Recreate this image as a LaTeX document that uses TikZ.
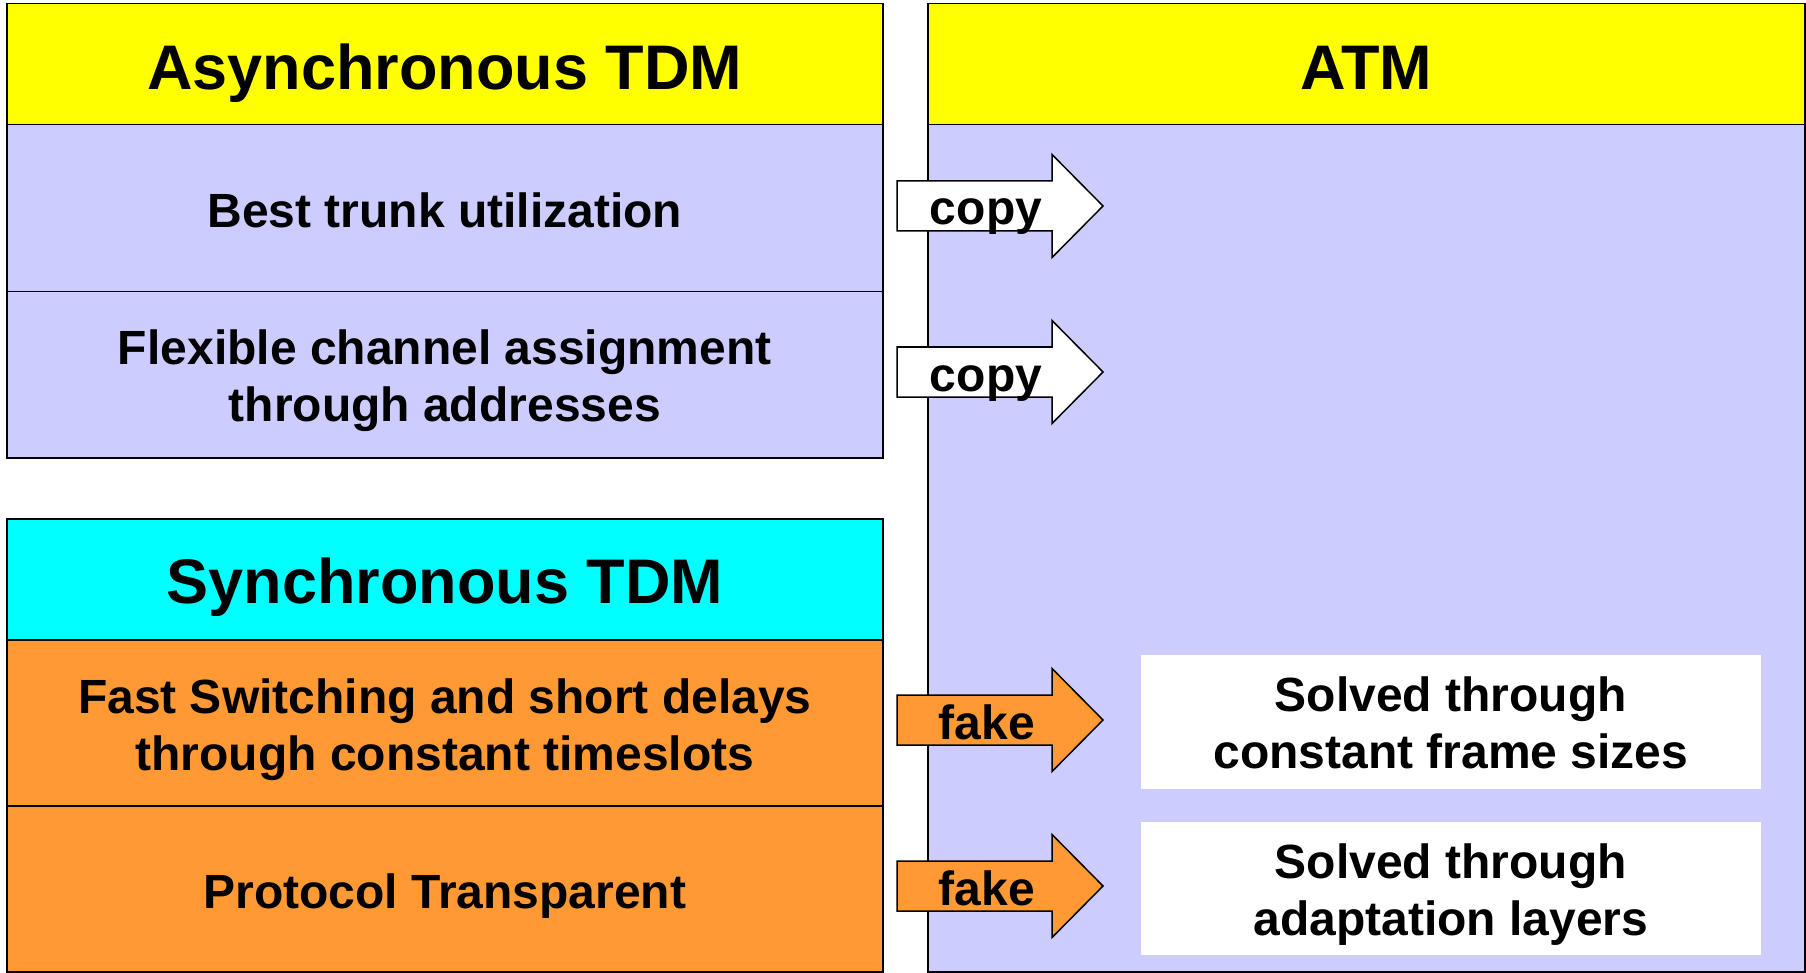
\documentclass[tikz,border=0pt]{standalone}
\usepackage{fontspec}
\setmainfont{Liberation Sans}
\definecolor{lavender}{HTML}{CCCCFF}
\definecolor{hdyellow}{HTML}{FFFF00}
\definecolor{hdcyan}{HTML}{00FFFF}
\definecolor{tdmorange}{HTML}{FF9933}
\begin{document}
\begin{tikzpicture}[x=1pt,y=-1pt,
  cell/.style={draw=black, line width=1.5pt, inner sep=0pt, anchor=north west},
  note/.style={cell, draw=none, fill=white},
  % text nodes sit on the baseline of their last line
  bodytext/.style={inner sep=0pt, anchor=base, align=center,
    font=\fontsize{48}{57}\selectfont\bfseries},
  headtext/.style={bodytext, font=\fontsize{63}{75}\selectfont\bfseries},
  blockarr/.pic={\path[pic actions] (0,-25) -- (155,-25) -- (155,-51.5) -- (206,0)
      -- (155,51.5) -- (155,25) -- (0,25) -- cycle;},
  arrowbody/.style={draw=black, line width=1.5pt, line join=miter}]
\useasboundingbox (0,0) rectangle (1806,973);

% ATM column
\node[cell, fill=lavender, minimum width=877pt, minimum height=847pt] (atmbody) at (927,124) {};
\node[cell, fill=hdyellow, minimum width=877pt, minimum height=121pt] (atm) at (927,3) {};
\node[headtext] (tatm) at (atm.center |- 0,90) {ATM};
\node[note, minimum width=620pt, minimum height=134pt] (sol1) at (1140,654) {};
\node[bodytext] (tsol1) at (sol1.center |- 0,768) {Solved through\\constant frame sizes};
\node[note, minimum width=620pt, minimum height=133pt] (sol2) at (1140,821) {};
\node[bodytext] (tsol2) at (sol2.center |- 0,935) {Solved through\\adaptation layers};

% Asynchronous TDM
\node[cell, fill=hdyellow, minimum width=876pt, minimum height=121pt] (ahead) at (6,3) {};
\node[headtext] (tahead) at (ahead.center |- 0,90) {Asynchronous TDM};
\node[cell, fill=lavender, minimum width=876pt, minimum height=167pt] (arow1) at (6,124) {};
\node[bodytext] (tarow1) at (arow1.center |- 0,228) {Best trunk utilization};
\node[cell, fill=lavender, minimum width=876pt, minimum height=166pt] (arow2) at (6,291) {};
\node[bodytext] (tarow2) at (arow2.center |- 0,421) {Flexible channel assignment\\through addresses};

% Synchronous TDM
\node[cell, fill=hdcyan, minimum width=876pt, minimum height=121pt] (shead) at (6,518) {};
\node[headtext] (tshead) at (shead.center |- 0,603) {Synchronous TDM};
\node[cell, fill=tdmorange, minimum width=876pt, minimum height=166pt] (srow1) at (6,639) {};
\node[bodytext] (tsrow1) at (srow1.center |- 0,770) {Fast Switching and short delays\\through constant timeslots};
\node[cell, fill=tdmorange, minimum width=876pt, minimum height=166pt] (srow2) at (6,805) {};
\node[bodytext] (tsrow2) at (srow2.center |- 0,908) {Protocol Transparent};

% block arrows
\pic[arrowbody, fill=white] at (897,206) {blockarr};
\node[bodytext] (c1) at (986,225) {copy};
\pic[arrowbody, fill=white] at (897,372) {blockarr};
\node[bodytext] (c2) at (986,391) {copy};
\pic[arrowbody, fill=tdmorange] at (897,720) {blockarr};
\node[bodytext] (f1) at (987,739) {fake};
\pic[arrowbody, fill=tdmorange] at (897,886) {blockarr};
\node[bodytext] (f2) at (987,905) {fake};
\end{tikzpicture}
\end{document}
